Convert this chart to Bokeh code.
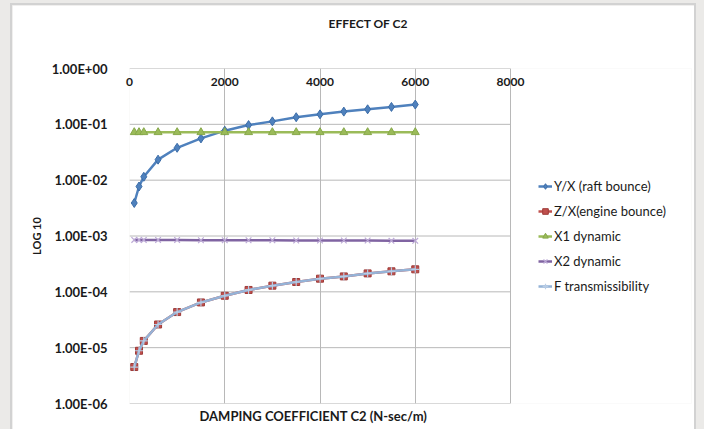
from bokeh.plotting import figure
from bokeh.models import (Range1d, FixedTicker, CustomJSTickFormatter,
                          Legend, LegendItem, Title)
from bokeh.layouts import column
from bokeh.embed import file_html
from bokeh.resources import INLINE

# ---- data ----
c2 = [100, 200, 300, 600, 1000, 1500, 2000, 2500, 3000, 3500, 4000, 4500, 5000, 5500, 6000]
yx_raft = [0.0039, 0.0077, 0.0115, 0.0233, 0.038, 0.056, 0.077, 0.097, 0.113, 0.134,
           0.151, 0.169, 0.186, 0.205, 0.226]
zx_engine = [4.5e-6, 8.8e-6, 1.32e-5, 2.6e-5, 4.34e-5, 6.46e-5, 8.5e-5, 1.08e-4, 1.29e-4,
             1.5e-4, 1.72e-4, 1.89e-4, 2.14e-4, 2.33e-4, 2.53e-4]
x1_dynamic = [0.072, 0.072, 0.072, 0.072, 0.072, 0.072, 0.072, 0.072, 0.072, 0.072,
              0.072, 0.072, 0.072, 0.072, 0.072]
x2_dynamic = [8.5e-4, 8.5e-4, 8.5e-4, 8.5e-4, 8.5e-4, 8.4e-4, 8.4e-4, 8.4e-4, 8.4e-4,
              8.3e-4, 8.3e-4, 8.3e-4, 8.3e-4, 8.2e-4, 8.2e-4]
f_trans = [4.5e-6, 8.8e-6, 1.32e-5, 2.6e-5, 4.34e-5, 6.46e-5, 8.5e-5, 1.08e-4, 1.29e-4,
           1.5e-4, 1.72e-4, 1.89e-4, 2.14e-4, 2.33e-4, 2.53e-4]

x_ticks = [0, 2000, 4000, 6000, 8000]
y_ticks = [1e-6, 1e-5, 1e-4, 1e-3, 1e-2, 1e-1, 1e0]

series_names = ["Y/X (raft bounce)", "Z/X(engine bounce)", "X1 dynamic", "X2 dynamic",
                "F transmissibility"]

FONT = "Lato"
GRID = "#b8b8b8"

# the frame is widened to the right so that the legend can sit inside it;
# the plot box itself is drawn by the grid lines (0..8000 x 1e-6..1).
p = figure(width=682, height=424, output_backend="svg", toolbar_location=None,
           y_axis_type="log", x_axis_location="above",
           x_range=Range1d(x_ticks[0], x_ticks[-1] * 1.475),
           y_range=Range1d(y_ticks[0], y_ticks[-1]),
           min_border_left=117, min_border_right=3, min_border_top=63,
           min_border_bottom=26, border_fill_color="white",
           outline_line_color=None)
p.margin = (5, 10, 0, 12)
p.styles = {"box-shadow": "0 0 0 2px #d2d2d2"}

# title (blank trailing lines lift the first line up in the top border)
p.title = Title(text="EFFECT OF C2\n\n", align="left", offset=199,
                vertical_align="bottom", standoff=0, text_line_height=1.25,
                text_font=FONT, text_font_size="12px", text_font_style="bold",
                text_color="#1a1a1a")

# top x axis (labels drawn just inside the plot area)
xt = FixedTicker(ticks=x_ticks)
xa = p.xaxis[0]
xa.ticker = xt
xa.axis_line_color = None
xa.major_tick_line_color = None
xa.minor_tick_line_color = None
xa.major_label_standoff = -23
xa.major_label_text_font = FONT
xa.major_label_text_font_size = "12px"
xa.major_label_text_font_style = "bold"
xa.major_label_text_color = "#1a1a1a"
p.xgrid.ticker = xt
p.xgrid.grid_line_color = GRID

# x-axis title below the plot box
p.add_layout(Title(text="DAMPING COEFFICIENT   C2 (N-sec/m)", align="left", offset=70,
                   standoff=4, text_font=FONT, text_font_size="13px",
                   text_font_style="bold", text_color="#1a1a1a"), "below")

# y axis
yt = FixedTicker(ticks=y_ticks)
ya = p.yaxis[0]
ya.ticker = yt
ya.formatter = CustomJSTickFormatter(code="""
const e = Math.round(Math.log(tick) / Math.LN10);
const m = tick / Math.pow(10, e);
const a = Math.abs(e);
return m.toFixed(2) + 'E' + (e < 0 ? '-' : '+') + (a < 10 ? '0' + a : '' + a);
""")
ya.axis_line_color = None
ya.major_tick_line_color = None
ya.minor_tick_line_color = None
ya.major_label_standoff = 16
ya.major_label_text_font = FONT
ya.major_label_text_font_size = "13px"
ya.major_label_text_font_style = "bold"
ya.major_label_text_color = "#1a1a1a"
ya.axis_label = "LOG 10"
ya.axis_label_standoff = 6
ya.axis_label_text_font = FONT
ya.axis_label_text_font_size = "11px"
ya.axis_label_text_font_style = "bold"
ya.axis_label_text_color = "#1a1a1a"
p.ygrid.grid_line_color = None

# horizontal grid lines limited to the x tick span
p.segment(x0=x_ticks[0], x1=x_ticks[-1], y0=y_ticks, y1=y_ticks,
          line_color=GRID, line_width=1)

items = []

l1 = p.line(c2, yx_raft, line_color="#4F81BD", line_width=2.5)
s1 = p.scatter(c2, yx_raft, marker="diamond", size=9, fill_color="#4F81BD",
               line_color="#3C6DA8")
items.append(LegendItem(label=series_names[0], renderers=[l1, s1]))

l2 = p.line(c2, zx_engine, line_color="#C0504D", line_width=2.5)
s2 = p.scatter(c2, zx_engine, marker="square", size=7, fill_color="#C0504D",
               line_color="#9E3B38")
items.append(LegendItem(label=series_names[1], renderers=[l2, s2]))

l3 = p.line(c2, x1_dynamic, line_color="#9BBB59", line_width=2.5)
s3 = p.scatter(c2, x1_dynamic, marker="triangle", size=8, fill_color="#9BBB59",
               line_color="#86A84A")
items.append(LegendItem(label=series_names[2], renderers=[l3, s3]))

l4 = p.line(c2, x2_dynamic, line_color="#8064A2", line_width=2.5)
s4 = p.scatter(c2, x2_dynamic, marker="x", size=8, line_color="#BCA9D6", line_width=1.2)
items.append(LegendItem(label=series_names[3], renderers=[l4, s4]))

l5 = p.line(c2, f_trans, line_color="#95B3D7", line_width=2.5)
s5 = p.scatter(c2, f_trans, marker="cross", size=8, line_color="#B8CCE4", line_width=1.2)
items.append(LegendItem(label=series_names[4], renderers=[l5, s5]))

legend = Legend(items=items, location=(409, 107), margin=0, padding=0,
                border_line_color=None, background_fill_alpha=0,
                glyph_width=14, glyph_height=20, label_height=20, spacing=5,
                label_standoff=2, label_text_font=FONT, label_text_font_size="13px",
                label_text_color="#1a1a1a")
p.add_layout(legend, "center")

layout = column(p, styles={"background-color": "#ebeae8"})

open("out.html", "w").write(file_html(layout, INLINE))
